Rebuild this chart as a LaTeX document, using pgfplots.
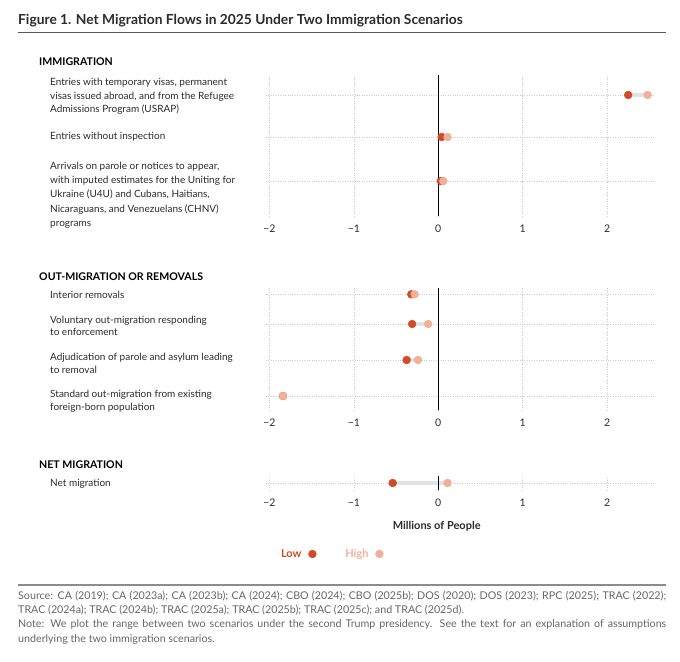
\documentclass[border=0pt]{standalone}
\usepackage{fontspec}
\setmainfont{Lato}
\usepackage{pgfplots}
\pgfplotsset{compat=1.18}
\usepackage{pgfplotstable}

\definecolor{lowc}{HTML}{D14B28}
\definecolor{highc}{HTML}{F1B097}
\definecolor{barc}{HTML}{E2E2E2}
\definecolor{gridc}{HTML}{CCCCCC}
\definecolor{txt}{HTML}{2B2B2B}
\definecolor{srcc}{HTML}{666666}

\pgfplotstableread{
y low high
-95 2.25 2.48
-137 0.04 0.11
-181 0.03 0.06
}\immig
\pgfplotstableread{
y low high
-294.3 -0.32 -0.28
-324 -0.31 -0.12
-360 -0.375 -0.24
-396 -1.84 -1.84
}\outmig
\pgfplotstableread{
y low high
-483 -0.54 0.11
}\netmig

\pgfplotsset{
  dumbbell/.style={
    scale only axis, width=387.4bp,
    xmin=-2.04, xmax=2.55,
    axis line style={draw=none},
    major tick length=0pt,
    xtick={-2,-1,0,1,2},
    xticklabels={−2,−1,0,1,2},
    yticklabels={},
    xmajorgrids, ymajorgrids,
    grid style={gridc, dotted, line width=0.7bp},
    xticklabel style={font=\fontsize{10.5bp}{12bp}\selectfont, text=txt, yshift=-5.5bp},
    clip=false,
  },
  rangebar/.style={only marks, mark=none, forget plot,
    error bars/.cd, x dir=plus, x explicit, error mark=none,
    error bar style={barc, line width=4.6bp}},
  lowdot/.style={only marks, color=lowc, mark=*, mark size=3.9bp, line width=0.5bp,
    mark options={solid, draw=lowc, fill=lowc}},
  highdot/.style={only marks, color=highc, mark=*, mark size=3.9bp, line width=0.5bp,
    mark options={solid, draw=highc, fill=highc}},
  zeroline/.style={black, line width=1.3bp, forget plot},
}

\newcommand{\lbl}[2]{\node[anchor=base west, inner sep=0pt, text=txt, font=\fontsize{10bp}{12bp}\selectfont] at (50bp,-#1bp) {#2};}
\newcommand{\hdr}[2]{\node[anchor=base west, inner sep=0pt, text=black, font=\fontsize{10.6bp}{12bp}\selectfont\bfseries] at (39bp,-#1bp) {#2};}

\begin{document}
\begin{tikzpicture}
\path[use as bounding box] (0,0) rectangle (680bp,-662bp);

% title
\node[anchor=base west, inner sep=0pt, font=\fontsize{13.8bp}{15bp}\selectfont\bfseries, text=txt] at (18bp,-24.7bp) {Figure 1. Net Migration Flows in 2025 Under Two Immigration Scenarios};
\draw[color=black!65, line width=1.4bp] (18bp,-32.3bp) -- (666bp,-32.3bp);

% panel 1
\begin{axis}[dumbbell, at={(266.1bp,-216bp)}, anchor=south west, height=141bp,
  ymin=-216, ymax=-75, ytick={-95,-137,-181}]
\addplot[rangebar] table[x=low, y=y, x error plus expr={\thisrow{high}-\thisrow{low}}] {\immig};
\addplot[zeroline] coordinates {(0,-75) (0,-216)};
\addplot[lowdot] table[x=low, y=y] {\immig};
\addplot[highdot] table[x=high, y=y] {\immig};
\end{axis}

% panel 2
\begin{axis}[dumbbell, at={(266.1bp,-410bp)}, anchor=south west, height=122bp,
  ymin=-410, ymax=-288, ytick={-294.3,-324,-360,-396}]
\addplot[rangebar] table[x=low, y=y, x error plus expr={\thisrow{high}-\thisrow{low}}] {\outmig};
\addplot[zeroline] coordinates {(0,-288) (0,-410)};
\addplot[lowdot] table[x=low, y=y] {\outmig};
\addplot[highdot] table[x=high, y=y] {\outmig};
\end{axis}

% panel 3
\begin{axis}[dumbbell, at={(266.1bp,-490bp)}, anchor=south west, height=14bp,
  ymin=-490, ymax=-476, ytick={-483},
  legend plot pos=right,
  legend style={draw=none, fill=none, at={(0.168,-4.57)}, anchor=center,
    legend columns=2, font=\fontsize{11bp}{12bp}\selectfont\bfseries,
    /tikz/every even column/.append style={column sep=27bp}},
  ]
\addplot[rangebar] table[x=low, y=y, x error plus expr={\thisrow{high}-\thisrow{low}}] {\netmig};
\addplot[zeroline] coordinates {(0,-476) (0,-490)};
\addplot[lowdot] table[x=low, y=y] {\netmig};
\addlegendentry{\textcolor{lowc}{Low}\hspace*{5bp}\mbox{}}
\addplot[highdot] table[x=high, y=y] {\netmig};
\addlegendentry{\textcolor{highc}{High}\hspace*{5bp}\mbox{}}
\end{axis}

% section headers
\hdr{65.6}{IMMIGRATION}
\hdr{280.6}{OUT-MIGRATION OR REMOVALS}
\hdr{468.6}{NET MIGRATION}

% row labels
\lbl{85}{Entries with temporary visas, permanent}
\lbl{99}{visas issued abroad, and from the Refugee}
\lbl{112.6}{Admissions Program (USRAP)}
\lbl{139.3}{Entries without inspection}
\lbl{169}{Arrivals on parole or notices to appear,}
\lbl{183}{with imputed estimates for the Uniting for}
\lbl{197.3}{Ukraine (U4U) and Cubans, Haitians,}
\lbl{212}{Nicaraguans, and Venezuelans (CHNV)}
\lbl{226}{programs}

\lbl{298.3}{Interior removals}
\lbl{323}{Voluntary out-migration responding}
\lbl{335.6}{to enforcement}
\lbl{360}{Adjudication of parole and asylum leading}
\lbl{373.3}{to removal}
\lbl{397.3}{Standard out-migration from existing}
\lbl{410.3}{foreign-born population}

\lbl{486.6}{Net migration}

% x axis title
\node[anchor=base, inner sep=0pt, font=\fontsize{11bp}{12bp}\selectfont\bfseries, text=txt] at (436.7bp,-529.9bp) {Millions of People};

% bottom rule and source
\draw[color=black!45, line width=1.4bp] (18bp,-585bp) -- (666bp,-585bp);
\node[anchor=north west, inner sep=0pt, text width=648bp, align=justify, text=srcc,
  font=\fontsize{10.7bp}{14.2bp}\selectfont] at (18bp,-591bp)
{Source: CA (2019); CA (2023a); CA (2023b); CA (2024); CBO (2024); CBO (2025b); DOS (2020); DOS (2023); RPC (2025); TRAC (2022);\linebreak TRAC (2024a); TRAC (2024b); TRAC (2025a); TRAC (2025b); TRAC (2025c); and TRAC (2025d).\par
Note: We plot the range between two scenarios under the second Trump presidency. See the text for an explanation of assumptions\linebreak underlying the two immigration scenarios.};
\end{tikzpicture}
\end{document}
